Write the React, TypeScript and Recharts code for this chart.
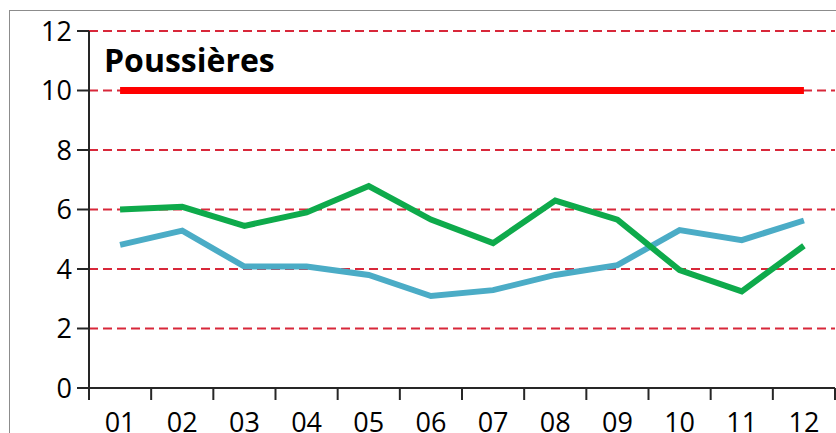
import { CartesianGrid, Line, LineChart, XAxis, YAxis } from 'recharts'

const months = ['01', '02', '03', '04', '05', '06', '07', '08', '09', '10', '11', '12']
const greenSeries = [6.0, 6.09, 5.45, 5.9, 6.79, 5.66, 4.87, 6.3, 5.66, 3.96, 3.25, 4.78]
const blueSeries = [4.81, 5.29, 4.08, 4.08, 3.8, 3.09, 3.29, 3.8, 4.13, 5.31, 4.97, 5.63]
const limitSeries = [10, 10, 10, 10, 10, 10, 10, 10, 10, 10, 10, 10]
const yTicks = [0, 2, 4, 6, 8, 10, 12]

const data = months.map((m, i) => ({
  month: m,
  green: greenSeries[i],
  blue: blueSeries[i],
  limit: limitSeries[i],
}))

const FONT = '"Open Sans", "Noto Sans", sans-serif'
const AXIS_Y = 388
const HALF_BAND = 31.08

function MonthTick(props: any) {
  const { x, payload, index } = props
  const left = x - HALF_BAND
  return (
    <g>
      <line x1={left} y1={AXIS_Y} x2={left} y2={AXIS_Y + 12} stroke="#262626" strokeWidth={2} />
      {index === months.length - 1 && (
        <line x1={x + HALF_BAND} y1={AXIS_Y} x2={x + HALF_BAND} y2={AXIS_Y + 12} stroke="#262626" strokeWidth={2} />
      )}
      <text x={x} y={AXIS_Y + 25} dy="0.71em" textAnchor="middle" fontSize={27} fontFamily={FONT} fill="#000">
        {payload.value}
      </text>
    </g>
  )
}

export default function App() {
  return (
    <div style={{ position: 'fixed', left: 0, top: 0, width: 836, height: 433, overflow: 'hidden', background: '#fff' }}>
      <div
        style={{
          position: 'absolute',
          left: 9,
          top: 10,
          width: 900,
          height: 500,
          border: '1px solid #8c8c8c',
        }}
      />
      <div style={{ position: 'absolute', left: 0, top: 0 }}>
        <LineChart width={900} height={470} data={data} margin={{ top: 31, right: 65, bottom: 0, left: 0 }}>
          <CartesianGrid vertical={false} stroke="#d8283a" strokeDasharray="9 5" strokeWidth={2} />
          <XAxis
            dataKey="month"
            height={82}
            padding={{ left: HALF_BAND, right: HALF_BAND }}
            axisLine={{ stroke: '#262626', strokeWidth: 2 }}
            tickLine={false}
            tick={<MonthTick />}
            interval={0}
          />
          <YAxis
            width={89}
            domain={[0, 12]}
            ticks={yTicks}
            interval={0}
            axisLine={{ stroke: '#262626', strokeWidth: 2 }}
            tickLine={{ stroke: '#262626', strokeWidth: 2 }}
            tickSize={12}
            tickMargin={5}
            tick={{ fontSize: 27, fontFamily: FONT, fill: '#000' }}
          />
          <Line dataKey="limit" stroke="#ff0000" strokeWidth={7} dot={false} isAnimationActive={false} strokeLinecap="butt" />
          <Line dataKey="blue" stroke="#4bacc6" strokeWidth={6} dot={false} isAnimationActive={false} />
          <Line dataKey="green" stroke="#0eaa4b" strokeWidth={6} dot={false} isAnimationActive={false} />
        </LineChart>
      </div>
      <div
        style={{
          position: 'absolute',
          left: 104,
          top: 40,
          fontFamily: FONT,
          fontWeight: 700,
          fontSize: 32,
          lineHeight: '40px',
          color: '#000',
        }}
      >
        Poussières
      </div>
    </div>
  )
}
